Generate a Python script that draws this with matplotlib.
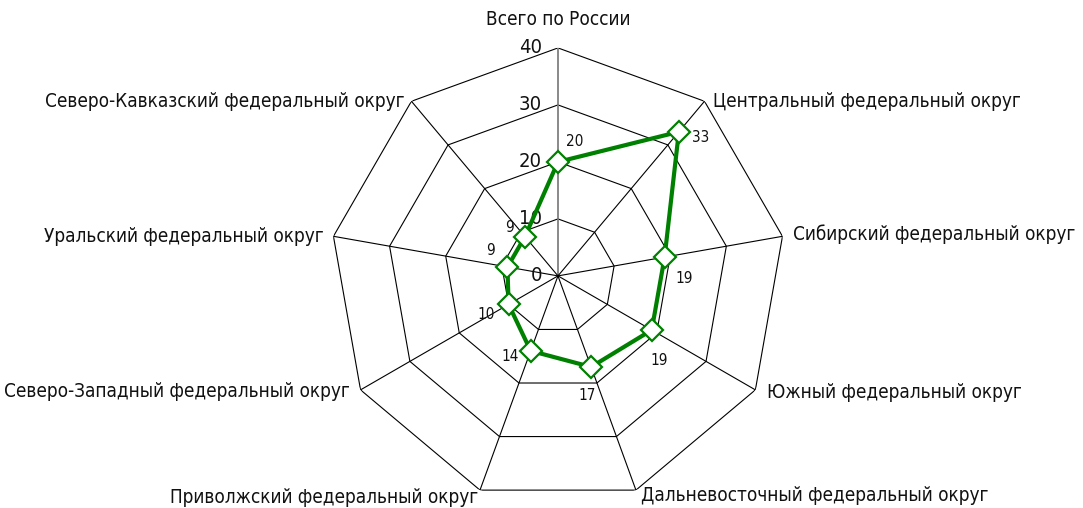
import numpy as np
import matplotlib
matplotlib.use("Agg")
import matplotlib.pyplot as plt

categories = [
    "Всего по России",
    "Центральный федеральный округ",
    "Сибирский федеральный округ",
    "Южный федеральный округ",
    "Дальневосточный федеральный округ",
    "Приволжский федеральный округ",
    "Северо-Западный федеральный округ",
    "Уральский федеральный округ",
    "Северо-Кавказский федеральный округ",
]
values = [20, 33, 19, 19, 17, 14, 10, 9, 9]
ticks = [0, 10, 20, 30, 40]

# label placement (pixels) - style only
cat_offsets = [(0, 28, "center"), (9, 0, "left"), (11, 2, "left"), (12, -3, "left"),
               (5, -5, "left"), (-2, -7, "right"), (-11, -2, "right"),
               (-10, 0, "right"), (-7, 0, "right")]
val_offsets = [(17, 20), (22, -6), (20, -21), (7, -30), (-4, -29), (-21, -6),
               (-22, -10), (-17, 16), (-15, 9)]

FONT = "DejaVu Sans"
STRETCH = "condensed"

fig = plt.figure(figsize=(10.83, 5.08), dpi=100)
ax = fig.add_axes([0.3047, 0.0079, 0.421, 0.898], projection="polar")
ax.set_theta_offset(np.pi / 2)
ax.set_theta_direction(-1)
ax.set_ylim(0, 40)
ax.grid(False)
ax.spines["polar"].set_visible(False)
ax.set_xticks([])
ax.set_yticks([])
ax.patch.set_alpha(0)

n = len(categories)
angles = np.linspace(0, 2 * np.pi, n, endpoint=False)
closed = np.concatenate([angles, angles[:1]])

# polygon grid
for t in ticks[1:]:
    ax.plot(closed, [t] * (n + 1), color="black", lw=0.8, zorder=1)
# spokes
for i, a in enumerate(angles):
    if i == 0:
        ax.plot([a, a], [0, 40], color="#808080", lw=1.3, zorder=1)
    else:
        ax.plot([a, a], [0, 40], color="black", lw=0.8, zorder=1)

# tick labels
for t in ticks:
    ax.annotate(str(t), xy=(0, t), xytext=(-16, 0), textcoords="offset pixels",
                ha="right", va="center", fontsize=14.5, family=FONT, fontstretch=STRETCH,
                color="#111111")

# data series
vals_closed = values + values[:1]
ax.plot(closed, vals_closed, color="#008000", lw=3, zorder=3)
ax.plot(angles, values, linestyle="none", marker="D", markersize=11.5,
        markerfacecolor="white", markeredgecolor="#008000", markeredgewidth=1.6, zorder=4)

for a, v, (dx, dy) in zip(angles, values, val_offsets):
    ax.annotate(str(v), xy=(a, v), xytext=(dx, dy), textcoords="offset pixels",
                ha="center", va="center", fontsize=11, family=FONT, fontstretch=STRETCH,
                color="#111111")

for a, c, (dx, dy, ha) in zip(angles, categories, cat_offsets):
    ax.annotate(c, xy=(a, 40), xytext=(dx, dy), textcoords="offset pixels",
                ha=ha, va="center", fontsize=13.6, family=FONT, fontstretch=STRETCH,
                color="#111111", annotation_clip=False)

fig.savefig("out.png", dpi=100)
